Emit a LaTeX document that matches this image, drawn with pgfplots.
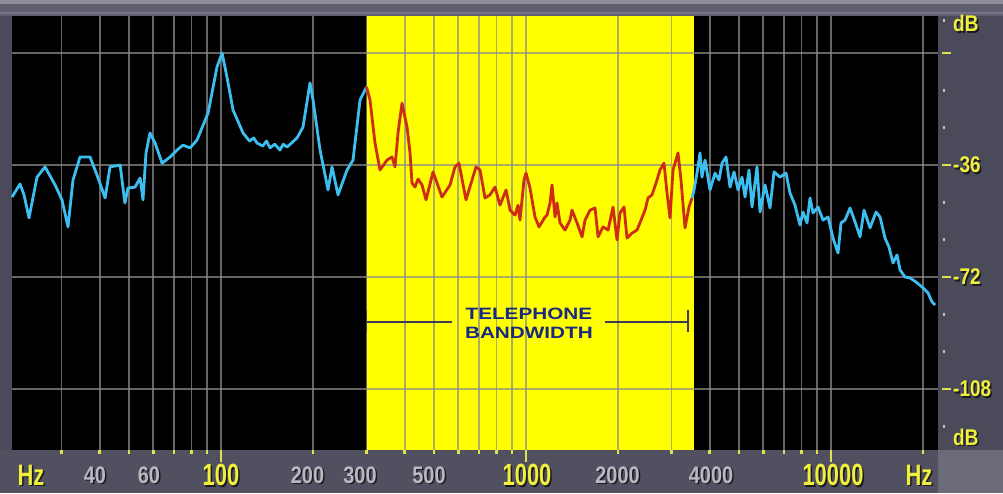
\documentclass[border=0pt]{standalone}
\usepackage{fontspec}
\setmainfont{Liberation Sans}
\usepackage{pgfplots}
\pgfplotsset{compat=1.18}
\definecolor{framec}{RGB}{74,74,90}
\definecolor{topc}{RGB}{94,94,110}
\definecolor{toplight}{RGB}{140,140,154}
\definecolor{topline}{RGB}{118,118,134}
\definecolor{stripc}{RGB}{80,80,96}
\definecolor{cornerc}{RGB}{106,106,120}
\definecolor{bandyellow}{RGB}{255,255,0}
\definecolor{gridc}{RGB}{140,140,140}
\definecolor{tickc}{RGB}{225,225,80}
\definecolor{dotc}{RGB}{200,200,150}
\definecolor{labyellow}{RGB}{240,240,60}
\definecolor{labgrey}{RGB}{185,185,195}
\definecolor{shadowc}{RGB}{25,25,32}
\definecolor{curveblue}{RGB}{60,190,240}
\definecolor{curvered}{RGB}{205,45,20}
\definecolor{navy}{RGB}{25,40,130}
\definecolor{bracketc}{RGB}{60,60,90}
\newcommand{\fgrey}{\fontsize{20}{20}\selectfont\bfseries}
\newcommand{\fyel}{\fontsize{22}{22}\selectfont\bfseries}
\newcommand{\fright}{\fontsize{19}{19}\selectfont\bfseries}
\newcommand{\ftel}{\fontsize{16.5}{16.5}\selectfont\bfseries}
\newcommand{\lbl}[6][center]{%
  \node[inner sep=0pt,anchor=#1,text=shadowc,font=#5] at ([xshift=1.5bp,yshift=-1.5bp]rel axis cs:#2,#3) {#6};
  \node[inner sep=0pt,anchor=#1,text=#4,font=#5] at (rel axis cs:#2,#3) {#6};}
\newcommand{\rdash}[1]{\draw[tickc, line width=2.5bp] (rel axis cs:1.0043,#1) -- (rel axis cs:1.0140,#1);}
\newcommand{\rdot}[1]{\draw[dotc, line width=2.5bp] (rel axis cs:1.0050,#1) -- (rel axis cs:1.0075,#1);}
\newcommand{\dtick}[1]{\draw[tickc, line width=2.5bp] (axis cs:#1,-128.6) -- (axis cs:#1,-131.6);}
\begin{document}
\begin{tikzpicture}
\begin{axis}[
  name=ax, set layers,
  at={(0,0)}, anchor=south west,
  width=926bp, height=434bp, scale only axis,
  xmode=log, xmin=20.64, xmax=22427, ymin=-127.6, ymax=11.9,
  axis line style={draw=none},
  xtick={30,40,50,60,70,80,90,100,200,300,400,500,600,700,800,900,1000,2000,3000,4000,5000,6000,7000,8000,9000,10000,20000},
  xticklabel={\mbox{}}, yticklabel={\mbox{}},
  ytick={0,-36,-72,-108},
  xtick pos=left, ytick pos=right,
  tick align=outside, major tick length=4bp,
  xtick style={draw=tickc, line width=2.5bp},
  ytick style={draw=none},
  grid=major,
  major grid style={draw=gridc, line width=1.8bp, draw opacity=0.72},
  clip=false,
]
\begin{pgfonlayer}{axis background}
  \fill[framec] (rel axis cs:-0.012959,-0.099078) rectangle (rel axis cs:1.070194,1.036866);
  \fill[topc] (rel axis cs:-0.012959,1.0) rectangle (rel axis cs:1.070194,1.036866);
  \fill[toplight] (rel axis cs:-0.012959,1.02765) rectangle (rel axis cs:1.070194,1.036866);
  \fill[topline] (rel axis cs:-0.012959,1.00461) rectangle (rel axis cs:1.070194,1.00922);
  \fill[stripc] (rel axis cs:-0.012959,-0.099078) rectangle (rel axis cs:1,0);
  \fill[cornerc] (rel axis cs:1,-0.099078) rectangle (rel axis cs:1.070194,0);
  \fill[black] (rel axis cs:0,0) rectangle (rel axis cs:1,1);
  \fill[bandyellow] (axis cs:300,-127.6) rectangle (axis cs:3550,11.9);
\end{pgfonlayer}
\coordinate (fSW) at (rel axis cs:-0.012959,-0.099078);
\coordinate (fNE) at (rel axis cs:1.070194,1.036866);

% left part (blue)
\addplot[curveblue, line width=2.8bp, line join=round] coordinates {
(20.64,-46.3)(21.93,-42.1)(22.6,-45.6)(23.47,-53.0)(24.93,-39.9)(26.48,-36.6)(28.57,-42.4)(30.11,-47.2)(31.5,-55.9)(32.72,-40.8)(34.5,-33.4)(37.2,-33.4)(39.21,-39.2)(41.7,-46.6)(43.26,-36.6)(46.7,-36.0)(48.4,-48.2)(49.56,-43.4)(52.24,-43.1)(54.3,-40.2)(55.5,-47.2)(56.77,-32.1)(58.5,-25.7)(60.76,-28.9)(64.1,-35.4)(68.1,-33.4)(71.73,-31.2)(75.06,-29.6)(79.14,-30.5)(83.4,-28.0)(90.7,-19.3)(97.0,-4.5)(100.8,0)(104.6,-7.7)(109.5,-18.3)(118.1,-25.7)(124,-28.3)(128,-27.3)(131.2,-28.9)(137,-29.9)(141,-28.3)(144.8,-30.5)(150,-29.3)(156,-31.2)(160,-29.3)(164.6,-30.2)(170,-29.0)(177.5,-27.3)(185.7,-23.8)(195.8,-9.6)(200.3,-15.1)(211.2,-31.2)(224.3,-44.0)(231.2,-36.6)(241.9,-45.6)(258.9,-37.6)(270.9,-34.4)(285.6,-15.1)(300,-10.9)
};
% telephone band (red)
\addplot[curvered, line width=2.8bp, line join=round] coordinates {
(300,-10.9)(308,-15.1)(319.8,-28.9)(332.1,-37.6)(350.2,-34.4)(363.7,-33.4)(372,-36.6)(380.5,-25.7)(392.2,-16.1)(407.3,-23.8)(416.6,-32.1)(422.8,-41.8)(432.6,-43.1)(442.5,-40.5)(456.1,-42.4)(470.1,-47.2)(495.6,-38.2)(530.4,-46.3)(563.4,-42.4)(585.1,-36.6)(602.9,-35.4)(635.7,-47.2)(685.7,-36.6)(706.7,-37.6)(733.8,-46.6)(762.1,-45.6)(791.3,-43.1)(821.8,-48.9)(860,-44.0)(886.4,-50.5)(920.4,-52.1)(941.6,-48.9)(955.7,-53.7)(984.9,-40.8)(1000,-38.6)(1030.6,-43.4)(1070.3,-52.7)(1103.2,-55.9)(1154.4,-52.7)(1172,-52.1)(1198.8,-48.2)(1216.9,-42.4)(1244.9,-52.7)(1263.7,-48.2)(1292.6,-54.6)(1342.5,-56.9)(1394,-53.7)(1415.5,-50.5)(1470,-54.6)(1526.6,-59.1)(1561.4,-53.7)(1621.5,-50.5)(1683.9,-49.8)(1722.7,-59.1)(1789.1,-55.9)(1857.9,-56.9)(1928.6,-49.5)(1988.1,-60.1)(2033.4,-51.4)(2095.7,-49.5)(2143.6,-59.5)(2226.1,-57.9)(2311.8,-56.9)(2382.6,-53.7)(2456.1,-50.5)(2511.9,-46.6)(2588.8,-45.6)(2668.1,-41.8)(2749.8,-37.6)(2834.5,-35.4)(2899.2,-45.0)(2965.5,-53.0)(3033.9,-37.6)(3150.1,-32.1)(3222.1,-40.8)(3320.9,-56.2)(3422.6,-49.5)(3501.4,-46.6)
};
% right part (blue)
\addplot[curveblue, line width=2.8bp, line join=round] coordinates {
(3501.4,-46.6)(3554.5,-44.0)(3636.4,-38.6)(3719.5,-32.1)(3775.6,-39.9)(3862.6,-34.4)(4011.2,-44.0)(4165.6,-38.6)(4293.2,-40.8)(4391.2,-35.4)(4525.7,-33.4)(4665.4,-43.1)(4808.3,-38.2)(4955.6,-44.0)(5107.4,-39.9)(5224,-46.3)(5383.9,-37.6)(5508,-49.5)(5720,-36.6)(5850.6,-51.1)(6075.8,-42.4)(6309.6,-49.8)(6502.8,-38.2)(6804.5,-39.9)(7120.2,-38.6)(7338.3,-45.0)(7620.7,-48.9)(7913.6,-55.3)(8094.2,-51.1)(8342.1,-54.6)(8532.5,-46.6)(8729.8,-51.4)(9066.4,-49.5)(9415.2,-53.7)(9777.5,-52.7)(10153,-59.5)(10544,-64.3)(10785,-54.6)(11116,-53.7)(11544,-49.8)(11988,-54.3)(12449,-59.1)(12831,-50.5)(13425,-56.2)(14047,-51.1)(14480,-52.7)(15033,-59.5)(15497,-62.4)(15971,-67.5)(16460,-64.9)(16836,-69.7)(17484,-72.0)(18155,-72.3)(18998,-73.6)(19880,-75.2)(20797,-77.1)(21434,-80.0)(21928,-81.0)
};

% longer ticks at decades
\dtick{100}\dtick{1000}\dtick{10000}

% right dashes and dots
\rdash{0.91470}\rdash{0.65663}\rdash{0.39857}\rdash{0.14050}
\rdot{0.99}\rdot{0.82867}\rdot{0.74265}\rdot{0.57061}\rdot{0.48459}\rdot{0.31254}\rdot{0.22652}\rdot{0.05448}

% bottom labels
\lbl{0.0205}{-0.0576}{labyellow}{\fyel}{\scalebox{1}[1.35]{Hz}}
\lbl{0.0896}{-0.0576}{labgrey}{\fgrey}{\scalebox{1}[1.2]{40}}
\lbl{0.1479}{-0.0576}{labgrey}{\fgrey}{\scalebox{1}[1.2]{60}}
\lbl{0.2257}{-0.0576}{labyellow}{\fyel}{\scalebox{1}[1.4]{100}}
\lbl{0.3191}{-0.0576}{labgrey}{\fgrey}{\scalebox{1}[1.2]{200}}
\lbl{0.3758}{-0.0576}{labgrey}{\fgrey}{\scalebox{1}[1.2]{300}}
\lbl{0.4503}{-0.0576}{labgrey}{\fgrey}{\scalebox{1}[1.2]{500}}
\lbl{0.5562}{-0.0576}{labyellow}{\fyel}{\scalebox{1}[1.4]{1000}}
\lbl{0.6539}{-0.0576}{labgrey}{\fgrey}{\scalebox{1}[1.2]{2000}}
\lbl{0.7549}{-0.0576}{labgrey}{\fgrey}{\scalebox{1}[1.2]{4000}}
\lbl{0.8866}{-0.0576}{labyellow}{\fyel}{\scalebox{1}[1.4]{10000}}
\lbl{0.9795}{-0.0576}{labyellow}{\fyel}{\scalebox{1}[1.35]{Hz}}

% right labels
\lbl[west]{1.0162}{0.9827}{labyellow}{\fright}{\scalebox{1}[1.2]{dB}}
\lbl[west]{1.0162}{0.6567}{labyellow}{\fright}{\scalebox{1}[1.2]{-36}}
\lbl[west]{1.0162}{0.3986}{labyellow}{\fright}{\scalebox{1}[1.2]{-72}}
\lbl[west]{1.0162}{0.1405}{labyellow}{\fright}{\scalebox{1}[1.2]{-108}}
\lbl[west]{1.0162}{0.0300}{labyellow}{\fright}{\scalebox{1}[1.2]{dB}}

% telephone bandwidth annotation
\draw[bracketc, line width=1.6bp] (axis cs:300,-86.5) -- (axis cs:572,-86.5);
\draw[bracketc, line width=1.6bp] (axis cs:1816,-86.5) -- (axis cs:3400,-86.5);
\draw[bracketc, line width=1.6bp] (axis cs:300,-82.6) -- (axis cs:300,-89.7);
\draw[bracketc, line width=1.6bp] (axis cs:3400,-82.6) -- (axis cs:3400,-89.7);
\node[text=navy, font=\ftel, inner sep=0pt] at (axis cs:1022,-83.9) {\scalebox{1.26}[1]{TELEPHONE}};
\node[text=navy, font=\ftel, inner sep=0pt] at (axis cs:1022,-90.0) {\scalebox{1.26}[1]{BANDWIDTH}};
\end{axis}
\pgfresetboundingbox
\useasboundingbox (fSW) rectangle (fNE);
\end{tikzpicture}
\end{document}
